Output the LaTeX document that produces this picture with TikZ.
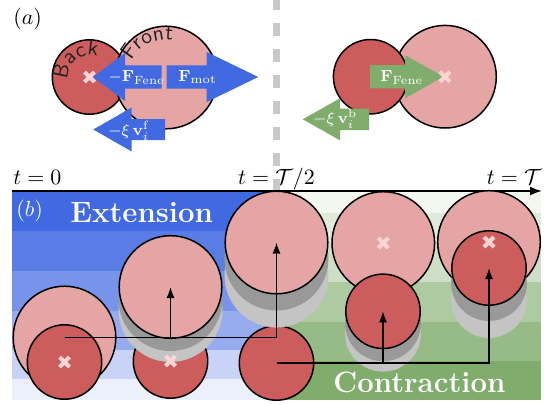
\documentclass[tikz,border=0pt]{standalone}
\usepackage{amsmath}
\usetikzlibrary{arrows.meta,decorations.text}
\definecolor{rblue}{RGB}{65,105,225}
\definecolor{ggreen}{RGB}{128,172,108}
\definecolor{pinkc}{RGB}{230,165,165}
\definecolor{redc}{RGB}{205,92,92}
\definecolor{crossc}{RGB}{252,212,212}
\definecolor{gdark}{RGB}{153,153,153}
\definecolor{glight}{RGB}{196,196,196}
\definecolor{dashg}{RGB}{200,200,200}
\definecolor{txtgrey}{RGB}{34,34,34}
\tikzset{
  pinkball/.style={circle,draw=black,line width=0.75pt,fill=pinkc,minimum size=51.3pt,inner sep=0pt,outer sep=0pt},
  redball/.style={circle,draw=black,line width=0.75pt,fill=redc,minimum size=37.2pt,inner sep=0pt,outer sep=0pt},
  darkshade/.style={circle,fill=gdark,minimum size=#1,inner sep=0pt,outer sep=0pt},
  lightshade/.style={circle,fill=glight,minimum size=#1,inner sep=0pt,outer sep=0pt},
  axisline/.style={line width=0.85pt,-{Latex[length=6pt,width=4.5pt]}},
  flowarrow/.style={line width=0.75pt,-{Latex[length=5.5pt,width=4pt]}},
  dashline/.style={dashg,line width=3.3pt,dash pattern=on 6.2pt off 6.8pt},
  tlabel/.style={font=\fontsize{11}{13}\selectfont,inner sep=0pt},
  forcelabel/.style={font=\fontsize{8.5}{10}\selectfont,text=white,inner sep=0pt,anchor=base west},
  phaselabel/.style={font=\fontsize{14.7}{17}\selectfont\bfseries,text=white,inner sep=0pt,anchor=base west},
  xmark/.pic={\draw[crossc,line width=2pt] (-5,-5)--(5,5) (-5,5)--(5,-5);}
}
\begin{document}
\begin{tikzpicture}[x=0.5pt,y=-0.5pt]
\useasboundingbox (0,0) rectangle (553,404);

% ---------------- panel (a) ----------------
\node[tlabel,anchor=base west] (la) at (13,24.5) {$(a)$};

% left pair: back (red) below, front (pink) on top
\node[redball] (rA) at (89.5,77) {};
\node[pinkball] (pA) at (166,77.5) {};
\path[decorate,decoration={text along path,text align=center,text color=txtgrey,
  text={|\sffamily\fontsize{11}{13}\selectfont|Back}}]
  (rA.center) ++(195:10.8pt) arc[start angle=195,end angle=61,radius=10.8pt];
\path[decorate,decoration={text along path,text align=center,text color=txtgrey,
  text={|\sffamily\fontsize{11}{13}\selectfont|Front}}]
  (pA.center) ++(182:19pt) arc[start angle=182,end angle=52,radius=19pt];

\fill[rblue] (93,77) -- (125,53) -- (125,65.3) -- (161.7,65.3) -- (161.7,88.7) -- (125,88.7) -- (125,101) -- cycle;
\fill[rblue] (258.3,77) -- (206.7,52) -- (206.7,65.3) -- (166.7,65.3) -- (166.7,88.7) -- (206.7,88.7) -- (206.7,102) -- cycle;
\fill[rblue] (93.3,129.5) -- (131.7,107.5) -- (131.7,119) -- (165,119) -- (165,140) -- (131.7,140) -- (131.7,151.5) -- cycle;
\node[forcelabel] (fl1) at (108.3,81.7) {$-\mathbf{F}_{\mathrm{Fene}}$};
\node[forcelabel] (fl2) at (178,81.7) {$\mathbf{F}_{\mathrm{mot}}$};
\node[forcelabel] (fl3) at (108,135) {$-\xi\,\mathbf{v}_i^{\mathrm{f}}$};
\pic at (rA.center) {xmark};

% right pair: front (pink) below, back (red) on top
\node[pinkball] (pB) at (445,76.7) {};
\node[redball] (rB) at (370.6,76.7) {};
\fill[ggreen] (443.3,76.7) -- (405,55) -- (405,65) -- (370,65) -- (370,88.4) -- (405,88.4) -- (405,98.4) -- cycle;
\fill[ggreen] (302.7,119.3) -- (340,98.3) -- (340,108.7) -- (369,108.7) -- (369,130) -- (340,130) -- (340,140.3) -- cycle;
\node[forcelabel] (fl4) at (380,81.7) {$\mathbf{F}_{\mathrm{Fene}}$};
\node[forcelabel] (fl5) at (313,123.3) {$-\xi\,\mathbf{v}_i^{\mathrm{b}}$};
\pic at (pB.center) {xmark};

% ---------------- panel (b) ----------------
% background bands
\fill[rblue] (12,192) rectangle (276.5,231);
\fill[rblue!87!white] (12,231) rectangle (276.5,271);
\fill[rblue!71!white] (12,271) rectangle (276.5,311);
\fill[rblue!55!white] (12,311) rectangle (276.5,350);
\fill[rblue!29!white] (12,350) rectangle (276.5,379);
\fill[rblue!10!white] (12,379) rectangle (276.5,400);
\fill[ggreen!10!white] (276.5,192) rectangle (541,213);
\fill[ggreen!25!white] (276.5,213) rectangle (541,242);
\fill[ggreen!38!white] (276.5,242) rectangle (541,282);
\fill[ggreen!64!white] (276.5,282) rectangle (541,322);
\fill[ggreen!82!white] (276.5,322) rectangle (541,361);
\fill[ggreen] (276.5,361) rectangle (541,400);

% separator and time axis
\coordinate (dtop) at (276.5,0);
\coordinate (dbot) at (276.5,191.7);
\draw[dashline] (dbot) -- (dtop);
\coordinate (ax0) at (12,191);
\coordinate (ax1) at (542,191);
\draw[axisline] (ax0) -- (ax1);
\node[tlabel,anchor=base west] (t0) at (13,184) {$t=0$};
\node[tlabel,anchor=base] (t1) at (276.5,184) {$t=\mathcal{T}/2$};
\node[tlabel,anchor=base east] (t2) at (542,184) {$t=\mathcal{T}$};

\node[tlabel,anchor=base west,text=white] (lb) at (16,216.5) {$(b)$};
\node[phaselabel] (ext) at (70,222) {Extension};
\node[phaselabel] (con) at (333,392) {Contraction};

% pair 1 (t=0)
\node[pinkball] (p1) at (64.5,337.5) {};
\node[redball] (r1) at (64.5,362) {};
\pic at (r1.center) {xmark};

% pair 2
\node[redball] (r2) at (170.5,361) {};
\node[lightshade=52pt] (s2b) at (170.5,310) {};
\node[darkshade=52pt] (s2a) at (170.5,299) {};
\node[pinkball] (p2) at (170.5,287) {};
\pic at (r2.center) {xmark};

% pair 3 (t=T/2)
\node[redball] (r3) at (276.5,363) {};
\node[lightshade=52pt] (s3b) at (276.5,275.5) {};
\node[darkshade=52pt] (s3a) at (276.5,258.5) {};
\node[pinkball] (p3) at (276.5,242.5) {};

% pair 4
\node[pinkball] (p4) at (383.3,243) {};
\node[lightshade=37.9pt] (s4b) at (383,333.7) {};
\node[darkshade=37.9pt] (s4a) at (383,323.3) {};
\node[redball] (r4) at (383,311.3) {};
\pic at (p4.center) {xmark};

% pair 5 (t=T)
\node[pinkball] (p5) at (489,242) {};
\node[lightshade=37.9pt] (s5b) at (489,300) {};
\node[darkshade=37.9pt] (s5a) at (489,283) {};
\node[redball] (r5) at (489,268) {};
\pic at (p5.center) {xmark};

% displacement arrows
\draw[flowarrow] (p1.center) -| (p3.center);
\draw[flowarrow] (p2.center |- p1.center) -- (p2.center);
\draw[flowarrow] (r3.center) -| (r5.center);
\draw[flowarrow] (r4.center |- r3.center) -- (r4.center);
\end{tikzpicture}
\end{document}
